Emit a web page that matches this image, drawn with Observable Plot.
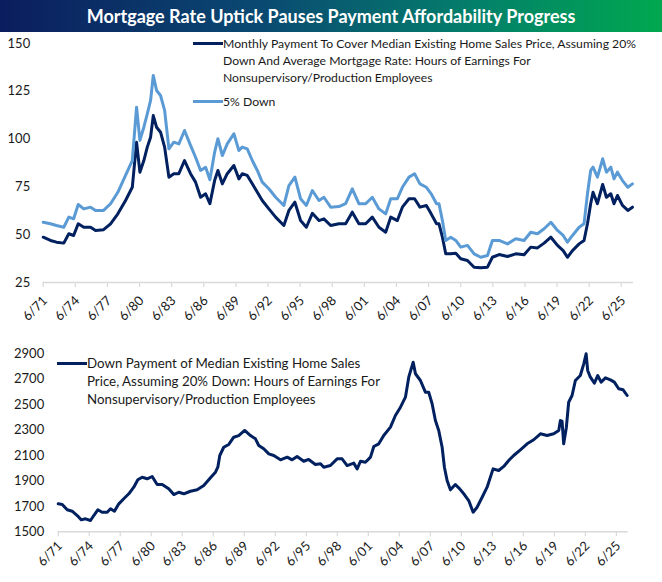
<!DOCTYPE html>
<html>
<head>
<meta charset="utf-8">
<script src="https://cdn.jsdelivr.net/npm/d3@7"></script>
<script src="https://cdn.jsdelivr.net/npm/@observablehq/plot@0.6"></script>
<style>
  html, body { margin: 0; padding: 0; background: #fff; }
  #wrap { position: relative; width: 662px; height: 582px; overflow: hidden; font-family: Lato, "Open Sans", sans-serif; }
  #title { position: absolute; left: 0; top: 0; width: 662px; height: 32px; line-height: 32px;
    background: linear-gradient(90deg, #0b1d5e 0%, #0a4a72 40%, #03806a 72%, #00a84f 100%);
    color: #fff; font-weight: bold; font-size: 18px; text-align: center; }
  .plot { position: absolute; left: 0; }
  .legend { position: absolute; display: flex; color: #1a1a1a; white-space: nowrap; z-index: 2; }
  .sw { flex: none; height: 3px; }
</style>
</head>
<body>
<div id="wrap">
  <div id="title">Mortgage Rate Uptick Pauses Payment Affordability Progress</div>
  <div id="topPanel" class="plot" style="top:32px"></div>
  <div id="bottomPanel" class="plot" style="top:332px"></div>
  <div class="legend" style="left:193px;top:34.5px;font-size:12.2px;line-height:17px">
    <div class="sw" style="width:30px;margin-top:7.5px;background:#002060"></div>
    <div>Monthly Payment To Cover Median Existing Home Sales Price, Assuming 20%<br>Down And Average Mortgage Rate: Hours of Earnings For<br>Nonsupervisory/Production Employees</div>
  </div>
  <div class="legend" style="left:193px;top:92.5px;font-size:12.2px;line-height:17px">
    <div class="sw" style="width:30px;margin-top:7.5px;background:#5b9bd5"></div>
    <div>5% Down</div>
  </div>
  <div class="legend" style="left:57px;top:354px;font-size:13.3px;line-height:18px">
    <div class="sw" style="width:30px;margin-top:8px;background:#002060"></div>
    <div>Down Payment of Median Existing Home Sales<br>Price, Assuming 20% Down: Hours of Earnings For<br>Nonsupervisory/Production Employees</div>
  </div>
</div>
<script>
// ---- Top panel data (decimal year, hours of earnings) ----
const topYears = [1971.46,1972.14,1972.7,1973.38,1973.85,1974.3,1974.73,1975.25,1975.88,1976.35,1977.1,1977.75,1978.43,1979.15,1979.78,1980.18,1980.49,1980.86,1981.18,1981.49,1981.74,1982.05,1982.42,1982.8,1983.2,1983.66,1984.13,1984.66,1985.22,1985.69,1986.16,1986.63,1987.03,1987.47,1987.78,1988.19,1988.65,1989.27,1989.74,
  1990.05,1990.52,1990.99,1991.46,1991.92,1992.54,1993.17,1993.94,1994.41,1994.97,1995.5,1996.04,1996.6,1997.22,1997.68,1998.31,1999.08,1999.71,2000.33,2000.95,2001.58,2002.2,2002.82,2003.45,2003.92,2004.54,2005.01,2005.63,2006.15,2006.65,2007.25,2007.7,2008.2,
  2008.43,2008.75,2009.06,2009.53,2010.0,2010.46,2011.09,2011.71,2012.33,2012.96,2013.42,2014.05,2014.83,2015.6,2016.38,2017.0,2017.63,2018.25,2018.88,2019.5,2020.03,2020.43,2020.9,2021.52,2021.98,2022.3,2022.6,2022.82,2023.23,2023.72,2024.07,2024.48,2024.78,2025.1,2025.57,2026.07,2026.5];
const payment20 = [48.7,47.0,46.1,45.6,50.5,49.6,55.7,53.9,53.9,52.2,52.6,55.7,60.9,67.9,74.8,98.4,82.7,88.8,95.8,101,112.3,106.2,103.6,95.8,80.1,81.9,81.9,88.8,81.9,77.5,69.6,71.4,66.2,78.3,83.6,76.6,81.9,86.2,79.2,
  81.9,81,76.6,72.2,67.9,63.5,59.2,54.8,62.7,67,57.4,53.9,61.2,57.4,58.3,54.8,55.7,55.7,61.8,55.7,55.7,59.2,53.9,51.3,59.2,57.4,64.4,68.8,68.8,64.4,65.3,60.9,55.7,
  55.7,48.7,40,40,40.3,37.4,36.5,33,32.7,33,38.2,39.6,38.6,40,39.5,43.5,43.1,45.6,48.7,44.4,41.7,38.2,41.7,45.2,47,55.7,66.2,72.2,66.2,76.3,69.6,71.4,66.2,70.5,65.3,62.7,64.4];
const payment5 = [56.5,55.7,54.8,53.9,59.2,58.3,65.8,63.5,64.4,62.7,62.7,66.2,72.2,81,88.8,116.7,99.3,106.2,113.2,120.2,133.3,125.4,122.8,115,94.9,98.4,97.5,104.5,96.7,90.5,83.6,85.3,78.7,93.1,100.2,91.4,97.5,102.8,94,
  95.8,94.9,88.8,83.6,77.5,74,69.6,65.3,75.7,80.1,68.8,65.3,73.1,67.9,69.6,64.4,64.7,66.2,74,66.2,66.2,69.6,63.5,60.9,68.8,68.8,74.8,80.1,81.9,76.6,74.8,71.4,66.2,
  66.2,57.4,47,48.7,47,43.5,44.4,40,38.2,39.1,47,47,45.2,47.9,47,51.3,50.5,53.1,56.5,52.2,49.6,46.1,49.6,53.9,55.7,71.4,83.6,85.3,80.1,89.7,82.7,85.3,79.2,82.7,78.3,74.8,76.6];
const topTicksY = [25,50,75,100,125,150];

// ---- Bottom panel data ----
const botYears = [1971.46,1971.85,1972.33,1972.81,1973.3,1973.68,1974.1,1974.58,1974.9,1975.29,1975.71,1976.2,1976.52,1976.9,1977.32,1977.8,1978.29,1978.77,1979.16,1979.58,1980.07,1980.55,1981.03,1981.52,1982.15,1982.64,1983.12,1983.61,1984.25,1984.9,1985.54,1986.19,1986.67,1986.9,1987.09,1987.47,1987.96,1988.44,1988.92,1989.5,1990.06,1990.54,1990.86,1991.34,1991.83,1992.31,1992.96,1993.61,1994.09,1994.57,1995.21,1995.69,1996.34,1996.83,1997.15,1997.79,1998.44,1998.92,
  1999.41,2000.05,2000.38,2000.7,2001.18,2001.67,2001.99,2002.47,2002.95,2003.6,2004.08,2004.57,2005.05,2005.37,2005.8,2006.02,2006.5,2006.98,2007.3,2007.63,2007.95,2008.27,2008.6,2008.82,2009.08,2009.4,2009.88,2010.3,2010.75,2011.17,2011.6,2011.98,2012.47,2012.95,2013.53,2014.07,2014.56,2015.04,2015.52,2016.17,2016.82,2017.46,2018.11,2018.75,2019.39,2019.88,2020.04,2020.2,2020.36,2020.62,2020.84,2021.17,2021.49,2021.97,2022.3,2022.53,2022.68,2022.94,2023.33,2023.65,2023.98,2024.4,2024.88,2025.26,2025.68,2026.11,2026.5];
const downPayment = [1720,1715,1673,1662,1628,1594,1602,1589,1628,1673,1654,1654,1681,1662,1720,1760,1799,1851,1909,1929,1917,1935,1872,1872,1838,1793,1811,1799,1819,1830,1864,1925,1969,2008,2100,2165,2187,2244,2257,2297,2257,2231,2179,2153,2113,2100,2066,2087,2066,2092,2055,2069,2029,2035,2008,2021,2074,2074,
  2021,2040,1995,2055,2047,2087,2171,2192,2257,2323,2415,2480,2559,2716,2834,2743,2690,2598,2598,2507,2375,2297,2165,2008,1903,1830,1872,1838,1793,1746,1654,1693,1772,1851,1995,1982,2014,2061,2100,2145,2192,2224,2271,2257,2271,2297,2375,2370,2192,2323,2519,2572,2690,2729,2821,2900,2769,2716,2669,2729,2677,2711,2695,2677,2625,2617,2572];
const botTicksY = [1500,1700,1900,2100,2300,2500,2700,2900];

// ---- X ticks: every 3 years, June ----
const tickYears = d3.range(0, 19).map(i => 1971.458 + 3 * i);
const tickLabels = tickYears.map(y => "6/" + String(Math.round(y - 0.458) % 100).padStart(2, "0"));
const xDomain = [1971.458, 2026.6];

const NAVY = "#002060", LIGHT = "#5b9bd5", GRID = "#d9d9d9";
const fmtX = y => tickLabels[tickYears.findIndex(t => Math.abs(t - y) < 0.01)];

const topData = topYears.map((x, i) => ({x, a: payment20[i], b: payment5[i]}));
const botData = botYears.map((x, i) => ({x, v: downPayment[i]}));

const common = {
  width: 662,
  style: {fontFamily: "Lato, 'Open Sans', sans-serif", fontSize: "13px", color: "#1a1a1a", background: "transparent", overflow: "visible"}
};

function xAxes(labelDy) {
  return [
    Plot.axisX({ticks: tickYears, tickSize: 5, stroke: GRID, strokeWidth: 1.2, tickFormat: () => "", label: null}),
    Plot.axisX({ticks: tickYears, tickFormat: fmtX, tickRotate: -45, tickSize: 0, tickPadding: 9, dx: 2, dy: labelDy, fill: "#1a1a1a", fontSize: 13, label: null})
  ];
}

const topChart = Plot.plot({
  ...common,
  height: 300,
  marginTop: 11, marginBottom: 50, marginLeft: 42.7, marginRight: 29,
  x: {domain: xDomain, axis: null},
  y: {domain: [topTicksY[0], topTicksY[topTicksY.length - 1]], axis: null},
  marks: [
    Plot.ruleY([topTicksY[0]], {stroke: GRID, strokeWidth: 1.5}),
    ...xAxes(7),
    Plot.axisY({ticks: topTicksY, tickSize: 0, tickPadding: 13, fontSize: 13, label: null, fill: "#1a1a1a"}),
    Plot.line(topData, {x: "x", y: "a", stroke: NAVY, strokeWidth: 3, strokeLinejoin: "round"}),
    Plot.line(topData, {x: "x", y: "b", stroke: LIGHT, strokeWidth: 3, strokeLinejoin: "round"})
  ]
});
document.getElementById("topPanel").appendChild(topChart);

const bottomChart = Plot.plot({
  ...common,
  height: 250,
  marginTop: 21.3, marginBottom: 50.7, marginLeft: 57.7, marginRight: 34.3,
  x: {domain: xDomain, axis: null},
  y: {domain: [botTicksY[0], botTicksY[botTicksY.length - 1]], axis: null},
  marks: [
    Plot.ruleY([botTicksY[0]], {stroke: GRID, strokeWidth: 1.5}),
    ...xAxes(3),
    Plot.axisY({ticks: botTicksY, tickFormat: d3.format("d"), tickSize: 0, tickPadding: 14, fontSize: 13, label: null, fill: "#1a1a1a"}),
    Plot.line(botData, {x: "x", y: "v", stroke: NAVY, strokeWidth: 3, strokeLinejoin: "round"})
  ]
});
document.getElementById("bottomPanel").appendChild(bottomChart);
</script>
</body>
</html>
